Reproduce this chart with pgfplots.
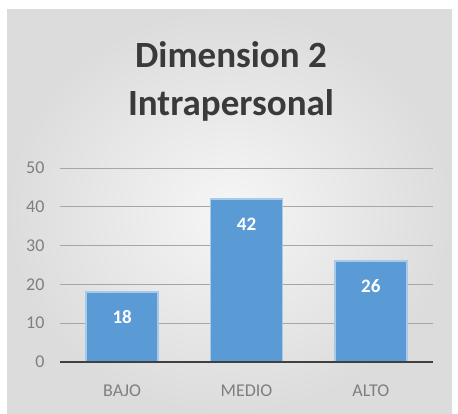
\documentclass[border=0pt]{standalone}
\usepackage{fontspec}
\setmainfont{Carlito}
\usepackage{pgfplots}
\pgfplotsset{compat=1.18}
\definecolor{barblue}{HTML}{5B9BD5}
\definecolor{baredge}{HTML}{A9C9EA}
\definecolor{tickgray}{HTML}{7F7F7F}
\definecolor{gridgray}{HTML}{A6A6A6}
\definecolor{titlegray}{HTML}{3A3A3A}
\definecolor{bginner}{HTML}{F6F6F6}
\definecolor{bgouter}{HTML}{DCDCDC}
\begin{document}
\begin{tikzpicture}
% page and chart panel
\path[fill=white] (0pt,0pt) rectangle (458pt,413pt);
\shade[inner color=bginner, outer color=bgouter] (7pt,0pt) rectangle (452pt,403pt);
% title
\node[anchor=base, text=titlegray, font=\fontsize{37}{44}\selectfont\bfseries] at (231pt,345pt) {Dimension 2};
\node[anchor=base, text=titlegray, font=\fontsize{37}{44}\selectfont\bfseries] at (231pt,297pt) {Intrapersonal};
\begin{axis}[
    at={(60pt,51pt)}, anchor=south west,
    scale only axis,
    width=373pt, height=194pt,
    ybar, bar width=72pt,
    xmin=-0.5, xmax=2.5,
    ymin=0, ymax=50,
    xtick={0,1,2},
    xticklabels={BAJO,MEDIO,ALTO},
    ytick={0,10,...,50},
    axis line style={draw=none},
    major tick length=0pt,
    ymajorgrids=true,
    grid style={gridgray, line width=1pt},
    /pgf/number format/assume math mode=true,
    yticklabel style={font=\fontsize{18}{18}\selectfont, text=tickgray, xshift=-12pt},
    xticklabel style={font=\fontsize{18}{18}\selectfont, text=tickgray, yshift=-19pt},
    nodes near coords,
    every node near coord/.append style={font=\fontsize{19}{19}\selectfont\bfseries, text=white, anchor=center, yshift=-25pt},
]
\addplot[fill=barblue, draw=baredge, line width=1.5pt] coordinates {(0,18) (1,42) (2,26)};
\draw[line width=2pt, color=black!75] (axis cs:-0.5,0) -- (axis cs:2.5,0);
\end{axis}
\end{tikzpicture}
\end{document}
